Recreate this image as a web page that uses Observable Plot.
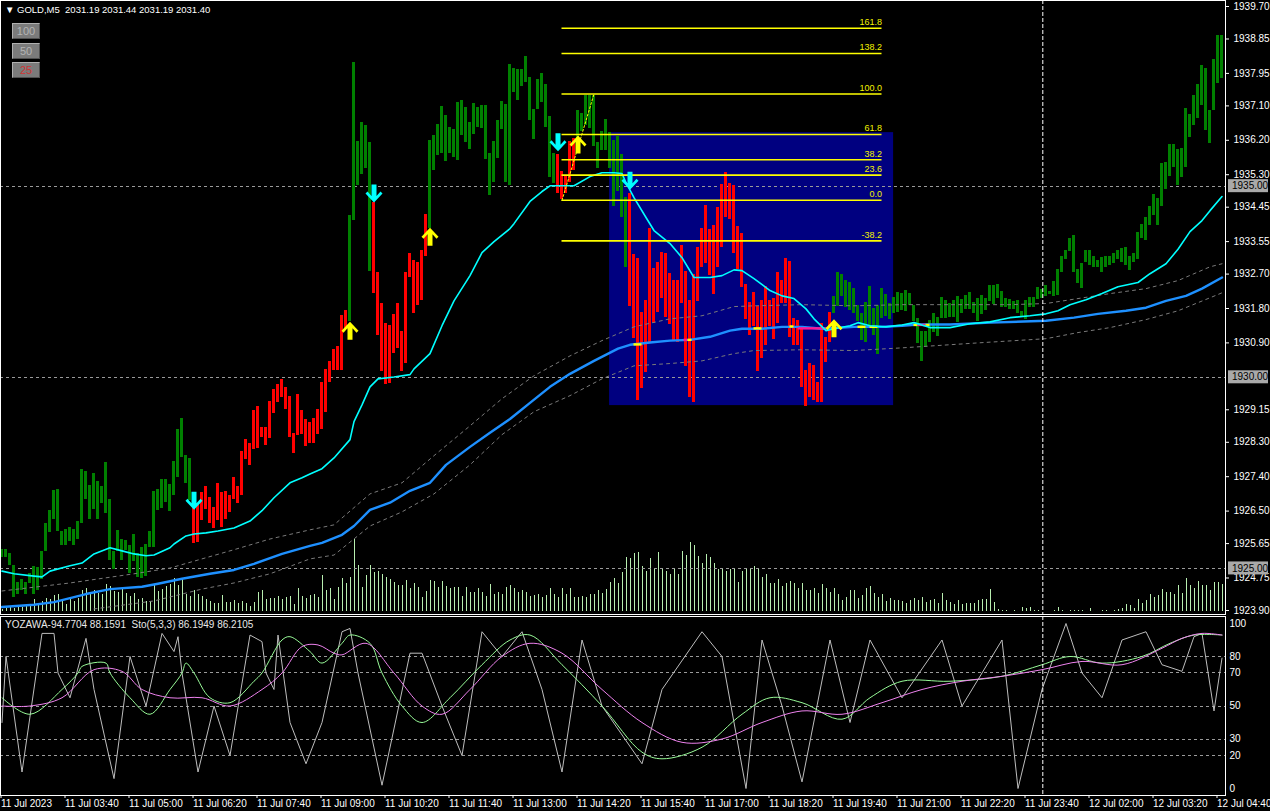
<!DOCTYPE html>
<html><head><meta charset="utf-8">
<script src="https://cdn.jsdelivr.net/npm/d3@7"></script>
<script src="https://cdn.jsdelivr.net/npm/@observablehq/plot@0.6"></script>
<style>
html,body{margin:0;padding:0;background:#000;}
#wrap{position:relative;width:1270px;height:811px;overflow:hidden;background:#000;font-family:"Liberation Sans",Arial,sans-serif;}
.layer{position:absolute;left:0;}
#hdr{position:absolute;left:5px;top:4px;color:#fff;font-size:9.5px;white-space:pre;z-index:5;}
.btn{position:absolute;left:12px;width:26px;height:14px;background:#7b7b7b;border-top:1px solid #b0b0b0;border-left:1px solid #b0b0b0;border-right:1px solid #505050;border-bottom:1px solid #505050;color:#b4b4b4;font-size:11px;line-height:14px;text-align:center;z-index:5;}
#sublbl{position:absolute;left:5px;top:619px;color:#e8e8e8;font-size:10px;white-space:pre;z-index:5;}
</style></head>
<body><div id="wrap">
<div id="hdr">▼ GOLD,M5  2031.19 2031.44 2031.19 2031.40</div>
<div class="btn" style="top:23px">100</div>
<div class="btn" style="top:43px">50</div>
<div class="btn" style="top:62px;color:#d03434">25</div>
<div id="sublbl">YOZAWA-94.7704 88.1591  Sto(5,3,3) 86.1949 86.2105</div>
</div>
<script>
// ---------- DATA ----------
const barHigh = [1925.49,1925.49,1925.38,1925.07,1924.62,1924.70,1924.62,1924.86,1925.04,1925.02,
1925.43,1926.17,1926.51,1927.03,1927.06,1925.96,1926.01,1926.06,1926.01,1926.22,
1927.58,1927.53,1927.16,1927.48,1927.27,1927.14,1927.77,1926.80,1925.43,1925.98,
1925.75,1925.72,1925.59,1925.88,1925.38,1925.54,1925.62,1925.96,1927.01,1927.06,
1927.32,1927.32,1927.19,1927.79,1928.63,1928.92,1927.95,1927.87,1926.74,1926.69,
1926.98,1927.14,1926.85,1926.59,1927.22,1926.98,1927.01,1926.90,1927.37,1927.14,
1928.05,1928.37,1928.26,1929.13,1929.23,1928.68,1928.68,1929.36,1929.68,1929.81,
1929.94,1929.73,1929.49,1928.52,1929.55,1929.13,1928.89,1928.81,1928.92,1929.15,
1929.86,1930.20,1930.41,1930.72,1930.80,1931.61,1931.74,1934.23,1938.24,1936.17,
1936.67,1936.59,1936.14,1934.57,1932.74,1931.93,1931.40,1931.35,1931.64,1931.93,
1931.19,1932.74,1933.24,1933.05,1933.00,1933.31,1934.26,1936.19,1936.33,1936.61,
1937.09,1936.85,1936.54,1936.48,1937.19,1937.24,1937.06,1936.67,1937.16,1937.06,
1937.11,1937.11,1935.85,1936.17,1936.72,1937.22,1937.14,1938.18,1938.08,1938.05,
1938.05,1938.39,1937.84,1937.01,1937.79,1937.95,1937.66,1936.82,1935.85,1935.83,
1935.38,1935.28,1936.17,1936.25,1936.98,1936.90,1937.37,1937.37,1937.37,1936.14,
1936.43,1936.74,1936.40,1936.19,1936.30,1935.83,1934.70,1934.81,1933.21,1933.11,
1931.69,1932.01,1933.89,1932.84,1933.00,1933.26,1933.24,1932.71,1932.53,1932.53,
1933.45,1932.77,1932.01,1932.69,1933.39,1933.89,1934.49,1933.86,1933.97,1934.44,
1935.04,1935.36,1935.07,1935.02,1933.94,1933.76,1932.42,1931.95,1932.22,1931.85,
1932.01,1932.37,1932.01,1932.06,1932.74,1932.53,1933.11,1933.03,1931.53,1931.48,
1931.33,1930.17,1930.36,1930.30,1929.86,1931.40,1931.04,1931.69,1932.11,1932.74,
1932.69,1932.53,1932.48,1932.32,1931.88,1931.67,1931.95,1932.37,1931.80,1931.88,
1932.32,1932.16,1931.93,1932.08,1932.22,1932.19,1932.27,1932.19,1931.88,1931.53,
1931.19,1931.19,1931.48,1931.67,1931.56,1932.08,1932.01,1931.93,1932.01,1932.11,
1932.03,1932.14,1932.22,1931.95,1932.06,1932.14,1932.06,1932.40,1932.40,1932.42,
1932.24,1932.06,1932.03,1931.98,1932.01,1931.72,1932.01,1932.08,1932.08,1932.35,
1932.29,1932.40,1932.24,1932.50,1932.82,1933.16,1933.31,1933.63,1933.71,1932.82,
1932.97,1933.31,1933.31,1933.16,1933.05,1933.13,1933.16,1933.16,1933.24,1933.31,
1933.37,1933.39,1933.16,1933.24,1933.79,1934.00,1934.18,1934.47,1934.78,1934.68,
1935.59,1935.62,1936.09,1936.09,1935.96,1935.99,1937.03,1936.88,1937.37,1937.66,
1938.16,1938.08,1936.98,1938.31,1938.94,1938.94];
const barLow = [1925.28,1925.28,1925.07,1924.23,1924.33,1924.41,1924.33,1924.60,1924.33,1924.41,
1924.70,1925.43,1925.93,1926.27,1925.96,1925.59,1925.59,1925.70,1925.59,1925.75,
1926.17,1926.80,1926.27,1926.53,1926.27,1926.69,1926.43,1925.20,1924.96,1925.43,
1925.20,1925.46,1924.88,1925.17,1924.75,1924.73,1924.78,1925.54,1925.54,1926.51,
1926.56,1926.72,1926.48,1926.90,1927.37,1927.90,1927.21,1926.77,1925.64,1925.67,
1926.25,1926.53,1926.17,1926.04,1926.25,1926.06,1926.27,1926.46,1926.80,1926.69,
1926.90,1927.84,1927.69,1928.11,1928.13,1928.42,1928.21,1928.39,1929.05,1929.34,
1929.47,1929.15,1928.42,1928.00,1928.47,1928.50,1928.18,1928.26,1928.26,1928.50,
1928.63,1929.07,1929.86,1930.17,1930.17,1930.17,1931.27,1931.46,1934.10,1935.02,
1935.30,1935.46,1932.77,1932.19,1931.09,1930.15,1929.81,1929.83,1930.62,1930.75,
1930.15,1930.36,1932.61,1931.67,1931.88,1932.01,1933.16,1933.89,1935.41,1935.80,
1935.85,1935.64,1935.85,1935.75,1935.67,1936.33,1936.14,1935.96,1936.35,1936.54,
1936.51,1935.70,1934.75,1935.09,1935.72,1936.48,1935.09,1935.02,1937.45,1937.24,
1937.61,1937.71,1936.72,1936.22,1937.01,1937.19,1936.54,1935.23,1935.07,1934.81,
1934.65,1934.81,1935.09,1935.41,1936.12,1936.43,1936.59,1936.51,1936.04,1935.46,
1935.93,1935.93,1935.46,1934.47,1934.86,1934.18,1932.87,1931.85,1931.01,1929.39,
1929.70,1930.12,1930.91,1931.40,1931.69,1932.06,1931.56,1931.38,1930.96,1930.91,
1931.93,1930.28,1929.47,1929.34,1931.98,1932.87,1932.97,1932.66,1932.16,1932.87,
1933.39,1934.18,1934.13,1933.24,1932.82,1932.35,1931.51,1931.09,1931.33,1930.15,
1930.49,1930.83,1931.33,1930.99,1931.40,1931.93,1931.93,1931.04,1930.83,1930.83,
1929.73,1929.23,1929.47,1929.39,1929.34,1929.34,1930.38,1930.91,1931.67,1931.85,
1932.11,1931.82,1931.74,1931.67,1931.46,1930.96,1930.91,1931.33,1931.09,1930.59,
1931.53,1931.59,1931.51,1931.67,1931.69,1931.74,1931.72,1931.88,1931.46,1930.88,
1930.41,1930.77,1930.91,1931.17,1931.06,1931.53,1931.53,1931.56,1931.56,1931.43,
1931.67,1931.77,1931.77,1931.67,1931.46,1931.64,1931.74,1931.98,1931.90,1932.06,
1931.82,1931.82,1931.77,1931.77,1931.67,1931.56,1931.51,1931.82,1931.82,1932.03,
1932.06,1932.11,1932.16,1932.11,1932.14,1932.74,1933.08,1933.29,1932.74,1932.45,
1932.32,1933.00,1932.92,1932.87,1932.87,1932.74,1932.87,1932.92,1932.97,1933.08,
1933.00,1932.92,1932.79,1933.00,1933.08,1933.63,1933.58,1933.97,1934.23,1933.97,
1934.47,1934.91,1935.25,1935.49,1935.02,1935.23,1935.49,1936.27,1936.59,1936.77,
1937.11,1936.46,1936.12,1936.98,1937.69,1937.82];
// bar colour runs: [first index, last index, tone]
const toneRuns = [[0,47,"up"],[48,86,"down"],[87,92,"up"],[93,106,"down"],[107,138,"up"],
  [139,143,"down"],[144,156,"up"],[157,207,"down"],[208,305,"up"]];
const tickVolume = [2,3,5,3,5,4,7,5,12,8,10,13,12,16,17,11,7,12,10,13,
21,23,19,21,18,17,27,25,20,19,22,18,15,18,12,13,10,10,27,20,
22,25,27,33,26,32,17,15,21,17,15,12,10,8,8,16,9,9,11,8,
10,8,5,9,19,21,12,13,13,15,12,14,15,7,23,15,13,16,17,14,
36,21,23,12,24,33,28,34,72,46,24,36,46,39,40,37,34,32,29,26,
26,31,23,28,24,14,20,31,30,24,30,25,23,24,24,15,24,19,19,23,
19,15,27,17,19,17,24,26,23,19,21,19,15,16,17,14,16,23,17,14,
23,17,23,14,14,15,14,17,17,21,18,22,29,33,28,39,54,53,58,59,
45,40,53,42,59,43,40,37,42,37,60,56,69,66,55,48,57,54,48,42,
42,40,42,42,29,40,42,43,45,43,34,37,28,28,32,25,28,30,28,23,
28,21,21,23,18,27,23,19,23,17,11,14,21,21,13,16,23,25,18,14,
17,10,13,11,11,10,8,11,13,11,14,9,11,12,8,18,11,9,7,11,
7,8,8,8,11,12,12,22,9,2,1,1,0,1,0,4,3,4,1,1,
0,0,0,1,4,1,0,1,1,1,1,0,3,0,0,1,1,0,1,2,
3,7,6,3,12,8,11,17,14,16,22,19,19,17,26,18,33,26,23,30,
26,26,21,29,29,27];
// moving averages read at sample bars: [bar index, price]
const fastMA = [[0,1924.93],[3,1924.86],[8,1924.80],[10,1924.78],[12,1924.93],[17,1925.07],[20,1925.14],[23,1925.38],[27,1925.54],[30,1925.46],[33,1925.38],[36,1925.33],[38,1925.35],[42,1925.54],[43,1925.64],[46,1925.85],[48,1925.90],[51,1925.93],[54,1925.98],[58,1926.06],[62,1926.24],[65,1926.51],[68,1926.85],[72,1927.24],[75,1927.37],[77,1927.47],[80,1927.61],[83,1927.89],[87,1928.37],[88,1928.84],[90,1929.28],[92,1929.75],[94,1929.96],[98,1930.01],[102,1930.07],[103,1930.22],[107,1930.62],[110,1931.35],[113,1932.00],[117,1932.66],[120,1933.26],[123,1933.55],[127,1933.89],[128,1934.02],[132,1934.60],[135,1934.86],[137,1935.01],[140,1935.01],[143,1935.01],[147,1935.25],[150,1935.35],[153,1935.35],[155,1935.33],[156,1935.09],[158,1934.70],[161,1934.18],[163,1933.84],[167,1933.50],[170,1933.13],[173,1932.61],[177,1932.61],[180,1932.66],[183,1932.81],[185,1932.79],[188,1932.58],[192,1932.27],[195,1932.13],[198,1932.06],[201,1931.79],[203,1931.53],[206,1931.22],[208,1931.27],[212,1931.35],[214,1931.43],[217,1931.35],[221,1931.32],[225,1931.37],[228,1931.43],[232,1931.30],[237,1931.30],[242,1931.40],[247,1931.45],[252,1931.56],[257,1931.61],[261,1931.66],[264,1931.74],[267,1931.90],[271,1932.03],[275,1932.19],[279,1932.37],[284,1932.48],[287,1932.71],[291,1932.97],[294,1933.35],[297,1933.81],[300,1934.10],[302,1934.36],[305,1934.73]];
const slowMA = [[0,1923.99],[8,1924.05],[13,1924.12],[21,1924.33],[27,1924.46],[35,1924.52],[39,1924.60],[45,1924.73],[52,1924.86],[58,1924.96],[63,1925.12],[70,1925.38],[77,1925.59],[80,1925.67],[85,1925.88],[88,1926.11],[92,1926.53],[97,1926.72],[102,1927.03],[107,1927.24],[111,1927.71],[117,1928.18],[122,1928.55],[127,1928.91],[132,1929.33],[137,1929.75],[142,1930.09],[148,1930.43],[154,1930.75],[157,1930.85],[162,1930.91],[167,1930.96],[172,1930.98],[177,1931.06],[182,1931.22],[185,1931.27],[190,1931.27],[195,1931.32],[200,1931.32],[205,1931.27],[213,1931.32],[220,1931.32],[225,1931.35],[229,1931.38],[237,1931.38],[247,1931.43],[261,1931.48],[268,1931.56],[274,1931.66],[281,1931.74],[286,1931.82],[291,1932.00],[296,1932.13],[300,1932.32],[305,1932.61]];
// slow MA colour-change segments: [from bar, to bar, price, colour]
const slowMAFlags = [[158,160,1930.86,"#ffff00"],[170.5,171.5,1930.98,"#ff1493"],[171.5,172.5,1930.98,"#ffff00"],[188,190,1931.28,"#ffff00"],[197,198,1931.33,"#ffff00"],[199,206,1931.28,"#ff1493"],[214,216,1931.32,"#ffff00"],[217,219,1931.32,"#ffff00"],[228,229,1931.37,"#ffff00"],[229,231,1931.37,"#ff1493"],[231,232,1931.37,"#ffff00"]];
const bandUpper = [[0,1924.41],[17,1924.62],[33,1924.86],[42,1925.01],[50,1925.25],[58,1925.49],[67,1925.77],[77,1926.01],[83,1926.14],[92,1926.95],[100,1927.24],[108,1927.95],[117,1928.73],[125,1929.44],[133,1930.04],[142,1930.56],[150,1930.96],[158,1931.32],[167,1931.53],[175,1931.61],[183,1931.85],[188,1931.87],[200,1931.90],[213,1931.87],[225,1931.90],[252,1931.90],[261,1931.93],[269,1932.06],[277,1932.19],[286,1932.32],[294,1932.53],[302,1932.89],[305,1932.97]];
const bandLower = [[23,1923.94],[38,1924.15],[50,1924.46],[58,1924.62],[67,1924.86],[77,1925.25],[83,1925.35],[92,1926.11],[100,1926.48],[108,1926.95],[117,1927.71],[125,1928.50],[133,1929.10],[142,1929.52],[150,1929.96],[158,1930.30],[167,1930.36],[175,1930.43],[183,1930.62],[188,1930.70],[200,1930.72],[213,1930.70],[225,1930.77],[244,1930.90],[261,1931.01],[269,1931.17],[277,1931.30],[286,1931.51],[294,1931.74],[302,1932.08],[305,1932.21]];
// signal arrows: [bar index, price, direction]
const arrows = [[48,1926.77,"down"],[87,1931.22,"up"],[93,1934.81,"down"],[107,1933.68,"up"],[139,1936.15,"down"],[144,1936.09,"up"],[157,1935.14,"down"],[208,1931.28,"up"]];
// fibonacci tool
const fibLabels = ["161.8","138.2","100.0","61.8","38.2","23.6","0.0","-38.2"];
const fibPrices = [1939.13,1938.47,1937.41,1936.35,1935.69,1935.29,1934.63,1933.57];
const fibFrom = 140, fibTo = 220;
const zigzag = [[140,1934.63],[148,1937.41]];
const boxBars = [151.9, 222.9], boxPrices = [1929.26, 1936.40];
const hLevels = [1935.00, 1930.00, 1925.00];
const separatorBar = 260.2;
const priceTicks = [1939.70,1938.85,1937.95,1937.10,1936.20,1935.30,1934.45,1933.55,1932.70,1931.80,1930.90,1929.15,1928.30,1927.40,1926.50,1925.65,1924.75,1923.90];
const timeTickBars = [0,16,32,48,64,80,96,112,128,144,160,176,192,208,224,240,256,272,288,304];
const timeLabels = ["11 Jul 2023","11 Jul 03:40","11 Jul 05:00","11 Jul 06:20","11 Jul 07:40","11 Jul 09:00","11 Jul 10:20","11 Jul 11:40","11 Jul 13:00","11 Jul 14:20","11 Jul 15:40","11 Jul 17:00","11 Jul 18:20","11 Jul 19:40","11 Jul 21:00","11 Jul 22:20","11 Jul 23:40","12 Jul 02:00","12 Jul 03:20","12 Jul 04:40"];
// oscillators: [bar index, value]
const yozawa = [[0,40],[1,80],[5,10],[10,94],[13,94],[14,70],[17,55],[21,91],[23,60],[28,6],[32,80],[36,50],[40,94],[43,83],[44,92],[45,70],[49,10],[53,50],[57,20],[62,93],[65,89],[66,70],[68,60],[69,93],[72,40],[76,15],[80,40],[85,95],[87,97],[89,70],[95,2],[102,82],[105,82],[110,50],[115,20],[120,95],[125,80],[130,95],[135,60],[140,10],[145,90],[150,50],[160,15],[165,60],[175,95],[180,80],[186,0],[190,90],[195,50],[200,4],[207,90],[212,40],[217,90],[225,55],[235,90],[240,50],[250,90],[254,0],[260,60],[266,100],[270,70],[275,55],[280,90],[286,95],[290,75],[295,71],[298,92],[300,94],[303,47],[305,79]];
const stochK = [[0,55],[7,45],[15,60],[19,70],[20,74],[26,76],[27,70],[32,55],[37,45],[42,60],[45,70],[46,76],[48,70],[52,55],[57,52],[63,65],[65,70],[70,90],[72,92],[77,83],[80,76],[85,88],[87,93],[92,88],[95,70],[100,50],[105,40],[112,55],[120,75],[127,90],[132,93],[140,75],[150,50],[160,22],[165,18],[175,25],[185,45],[192,55],[200,52],[210,42],[217,55],[225,65],[237,65],[250,68],[260,75],[267,80],[275,76],[285,80],[292,88],[298,93],[305,93]];
const stochD = [[0,50],[7,50],[15,55],[23,72],[30,71],[35,60],[42,55],[50,55],[57,50],[65,60],[70,70],[75,86],[79,87],[83,82],[85,81],[91,88],[98,70],[105,50],[110,45],[117,60],[125,80],[132,88],[140,82],[150,60],[160,40],[170,28],[180,30],[190,40],[200,47],[210,45],[220,52],[230,60],[240,65],[250,68],[260,72],[270,77],[280,75],[290,85],[295,91],[300,94],[305,93]];
const oscLevels = [80,70,50,30,20];
const oscTicks = [100,80,70,50,30,20,0];

// ---------- BUILD ----------
const toneOf = i => toneRuns.find(r => i >= r[0] && i <= r[1])[2];
const bars = barHigh.map((h, i) => ({i, hi: h, lo: barLow[i], tone: toneOf(i)}));
const vols = tickVolume.map((v, i) => ({i, v}));
const pts = a => a.map(([i, p]) => ({i, p}));
const fib = fibLabels.map((l, k) => ({label: l, price: fibPrices[k]}));
const flags = slowMAFlags.map(([a, b, p, c]) => ({a, b, p, c}));
const W = 1270, PW = 1225;
const xDom = [-0.375, 305.875];
const font = "Liberation Sans, Arial, sans-serif";
const wrap = document.getElementById("wrap");

// volume layer
const volPlot = Plot.plot({
  width: W, height: 615, margin: 0,
  x: {domain: xDom, range: [0, PW], axis: null},
  y: {domain: [0, 72], range: [611, 539], axis: null},
  style: {background: "transparent"},
  marks: [Plot.ruleX(vols, {x: "i", y1: 0, y2: "v", stroke: "#b8eeb0", strokeWidth: 1, shapeRendering: "crispEdges"})]
});
volPlot.setAttribute("class", "layer"); volPlot.style.top = "0px";
wrap.appendChild(volPlot);

function arrowSymbol(dir) {
  const s = dir === "down" ? 1 : -1;
  return {draw(ctx) {
    const P = [[-2.5,-9],[2.5,-9],[2.5,2.5],[6.5,-2],[8.5,0],[0,9],[-8.5,0],[-6.5,-2],[-2.5,2.5]];
    ctx.moveTo(P[0][0], s*P[0][1]);
    for (let k = 1; k < P.length; k++) ctx.lineTo(P[k][0], s*P[k][1]);
    ctx.closePath();
  }};
}
const arrowData = arrows.map(([i, p, d]) => ({i, p, d}));

const main = Plot.plot({
  width: W, height: 615, marginLeft: 0, marginRight: W - PW, marginTop: 0, marginBottom: 1,
  x: {domain: xDom, range: [0, PW], axis: null},
  y: {domain: [1923.795, 1939.857], range: [614, 0], axis: null},
  style: {background: "transparent", color: "#fff", fontFamily: font, fontSize: "10px"},
  marks: [
    Plot.rect([0], {x1: boxBars[0], x2: boxBars[1], y1: boxPrices[0], y2: boxPrices[1], fill: "#000080"}),
    Plot.ruleY(hLevels, {stroke: "#9a9a9a", strokeDasharray: "3,3", strokeWidth: 1, shapeRendering: "crispEdges"}),
    Plot.rect(bars, {x1: d => d.i - 0.375, x2: d => d.i + 0.375, y1: "lo", y2: "hi",
      fill: d => d.tone === "up" ? "#008000" : "#ff0000", shapeRendering: "crispEdges"}),
    Plot.line(pts(bandUpper), {x: "i", y: "p", stroke: "#7a7a7a", strokeDasharray: "3,4", strokeWidth: 1}),
    Plot.line(pts(bandLower), {x: "i", y: "p", stroke: "#7a7a7a", strokeDasharray: "3,4", strokeWidth: 1}),
    Plot.line(pts(slowMA), {x: "i", y: "p", stroke: "#1e90ff", strokeWidth: 2.4}),
    Plot.ruleY(flags, {y: "p", x1: "a", x2: "b", stroke: "c", strokeWidth: 2.4}),
    Plot.line(pts(fastMA), {x: "i", y: "p", stroke: "#00ffff", strokeWidth: 1.6}),
    Plot.ruleY(fib, {y: "price", x1: fibFrom, x2: fibTo, stroke: "#ffff00", strokeWidth: 1.6}),
    Plot.text(fib, {x: fibTo, y: "price", text: "label", textAnchor: "end", dy: -6, fill: "#f2f200", fontSize: 9}),
    Plot.line(pts(zigzag), {x: "i", y: "p", stroke: "#ffff00", strokeDasharray: "2,2", strokeWidth: 1}),
    Plot.dot(arrowData.filter(d => d.d === "down"), {x: "i", y: "p", symbol: arrowSymbol("down"), fill: "#00ffff", stroke: null, r: 8}),
    Plot.dot(arrowData.filter(d => d.d === "up"), {x: "i", y: "p", symbol: arrowSymbol("up"), fill: "#ffff00", stroke: null, r: 8}),
    Plot.ruleX([separatorBar], {stroke: "#ffffff", strokeDasharray: "4,2", strokeWidth: 1}),
    Plot.frame({stroke: "#ffffff"}),
    Plot.axisY(priceTicks, {anchor: "right", tickSize: 3, tickPadding: 5, tickFormat: d => d.toFixed(2), fill: "#ffffff", stroke: "#ffffff", fontSize: 10, label: null})
  ]
});
main.setAttribute("class", "layer"); main.style.top = "0px";
wrap.appendChild(main);
{
  const ys = main.scale("y");
  const svg = d3.select(main);
  for (const p of hLevels) {
    const y = ys.apply(p);
    svg.append("rect").attr("x", 1228).attr("y", y - 6.5).attr("width", 40).attr("height", 13).attr("fill", "#a9a9a9");
    svg.append("text").attr("x", 1232).attr("y", y).attr("dy", "0.36em").attr("fill", "#000")
      .attr("text-anchor", "start").attr("font-family", font).attr("font-size", 10).text(p.toFixed(2));
  }
}

// oscillator panel
const sub = Plot.plot({
  width: W, height: 195, marginLeft: 0, marginRight: W - PW, marginTop: 0, marginBottom: 16,
  x: {domain: xDom, range: [0, PW], axis: null},
  y: {domain: [-4.24, 104.24], range: [179, 0], axis: null},
  style: {background: "transparent", color: "#fff", fontFamily: font, fontSize: "10px"},
  marks: [
    Plot.ruleY(oscLevels, {stroke: "#9a9a9a", strokeDasharray: "3,3", strokeWidth: 1, shapeRendering: "crispEdges"}),
    Plot.line(pts(yozawa), {x: "i", y: "p", stroke: "#bdbdbd", strokeWidth: 1}),
    Plot.line(pts(stochK), {x: "i", y: "p", stroke: "#98fb98", strokeWidth: 1, curve: "catmull-rom"}),
    Plot.line(pts(stochD), {x: "i", y: "p", stroke: "#ee82ee", strokeWidth: 1, curve: "catmull-rom"}),
    Plot.ruleX([separatorBar], {stroke: "#ffffff", strokeDasharray: "4,2", strokeWidth: 1}),
    Plot.frame({stroke: "#ffffff"}),
    Plot.axisY(oscTicks, {anchor: "right", tickSize: 0, tickPadding: 4, fill: "#ffffff", fontSize: 10, label: null}),
    Plot.axisX(timeTickBars, {anchor: "bottom", tickSize: 3, tickPadding: 1, textAnchor: "start", dx: -1,
      tickFormat: d => timeLabels[timeTickBars.indexOf(d)], fill: "#ffffff", stroke: "#ffffff", fontSize: 10, label: null})
  ]
});
sub.setAttribute("class", "layer"); sub.style.top = "616px";
wrap.appendChild(sub);
</script>
</body></html>
